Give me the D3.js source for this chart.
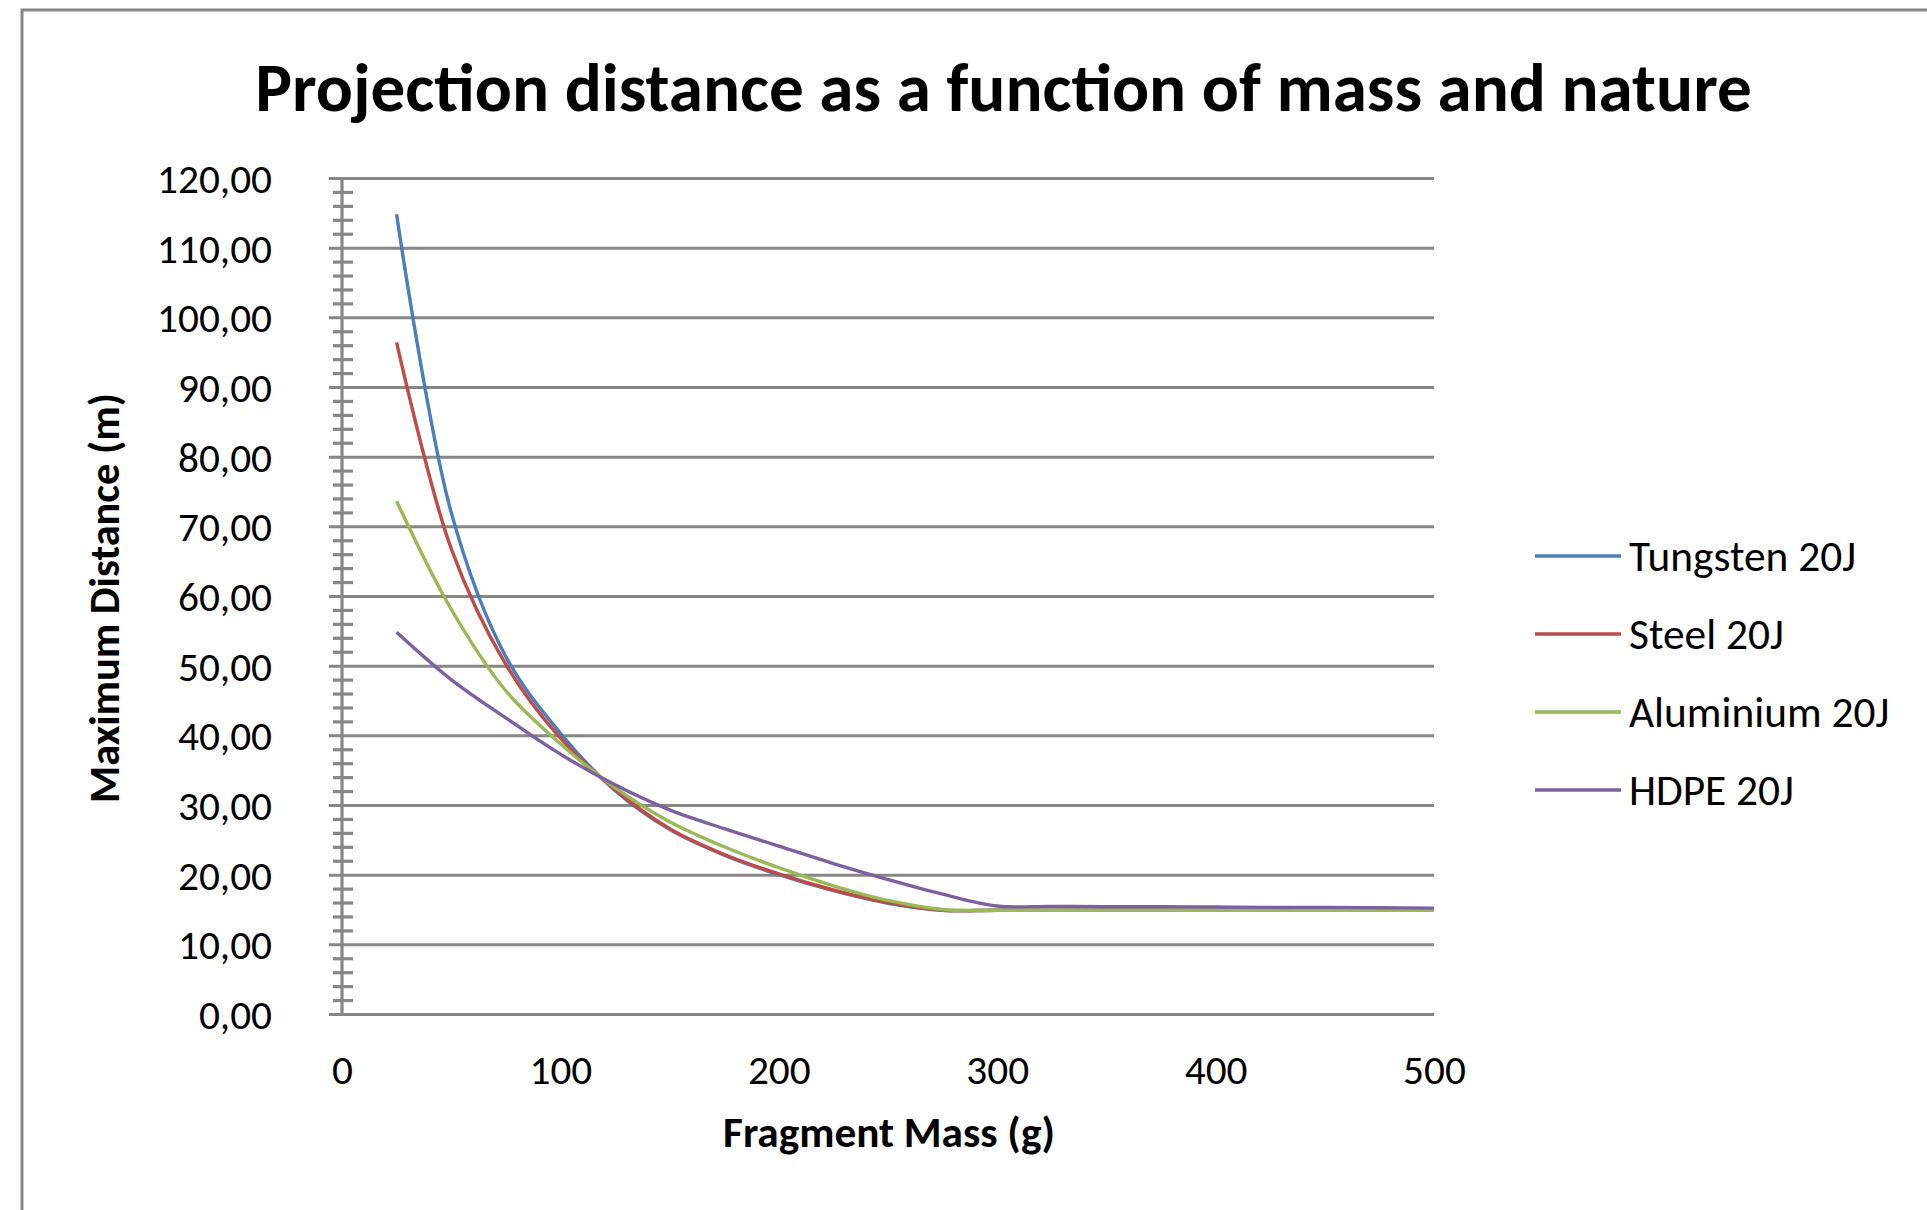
<!DOCTYPE html>
<html>
<head>
<meta charset="utf-8">
<script src="https://cdn.jsdelivr.net/npm/d3@7"></script>
<style>
  body { margin: 0; background: #fff; }
  svg { display: block; }
</style>
</head>
<body>
<svg id="chart"></svg>
<script>
// fragment mass (g)
var masses = [25, 50, 75, 100, 125, 150, 175, 200, 225, 250, 275, 300, 325, 350, 375, 400, 425, 450, 475, 500];

// maximum distance (m)
var tungsten = [114.8, 72.0, 51.3, 40.3, 32.1, 26.5, 22.8, 20.0, 17.7, 15.9, 14.9, 14.9, 14.9, 14.9, 14.9, 14.9, 14.9, 14.9, 14.9, 14.9];
var steel = [96.4, 66.8, 50.2, 39.6, 32.2, 26.6, 22.9, 20.1, 17.8, 16.0, 14.9, 14.9, 14.9, 14.9, 14.9, 14.9, 14.9, 14.9, 14.9, 14.9];
var aluminium = [73.6, 58.1, 46.4, 38.8, 32.5, 27.6, 24.0, 21.0, 18.4, 16.3, 15.0, 14.9, 14.9, 14.9, 14.9, 14.9, 14.9, 14.9, 14.9, 14.9];
var hdpe = [54.8, 48.0, 42.5, 37.3, 32.9, 29.3, 26.6, 24.1, 21.6, 19.3, 17.2, 15.5, 15.45, 15.4, 15.4, 15.35, 15.3, 15.3, 15.25, 15.2];

var seriesNames = ["Tungsten 20J", "Steel 20J", "Aluminium 20J", "HDPE 20J"];
var seriesColors = ["#4A7EBB", "#BE4B48", "#98B954", "#7D60A0"];

var xTickValues = [0, 100, 200, 300, 400, 500];
var yTickValues = [0, 10, 20, 30, 40, 50, 60, 70, 80, 90, 100, 110, 120];

var title = "Projection distance as a function of mass and nature";
var xTitle = "Fragment Mass (g)";
var yTitle = "Maximum Distance (m)";

var width = 1927, height = 1210;
var fontFamily = "Carlito, Calibri, Lato, sans-serif";
var gridColor = "#878787";

var svg = d3.select("#chart")
    .attr("width", width)
    .attr("height", height)
    .style("font-family", fontFamily);

// chart border
svg.append("rect")
    .attr("x", 22).attr("y", 10)
    .attr("width", 2000).attr("height", 1400)
    .attr("fill", "#fff")
    .attr("stroke", gridColor)
    .attr("stroke-width", 3);

var x = d3.scaleLinear().domain([0, 500]).range([342, 1434]);
var y = d3.scaleLinear().domain([0, 120]).range([1014, 178]);

// scale a font so a text gets a wanted width
function fitSize(node, fs, target) {
    var w = node.getBBox().width;
    return fs * target / w;
}

// gridlines
var grid = svg.append("g")
    .attr("transform", "translate(329,0)")
    .call(d3.axisRight(y).tickValues(yTickValues).tickSize(x(500) - 329).tickFormat(""));
grid.select(".domain").remove();
grid.selectAll("line").attr("stroke", gridColor).attr("stroke-width", 3);

// minor ticks every 2
var minorValues = d3.range(0, 121, 2).filter(function (v) { return v % 10 !== 0; });
var minor = svg.append("g")
    .attr("transform", "translate(353,0)")
    .call(d3.axisLeft(y).tickValues(minorValues).tickSize(20).tickFormat(""));
minor.select(".domain").remove();
minor.selectAll("line").attr("stroke", gridColor).attr("stroke-width", 3.2);

// vertical axis line
svg.append("line")
    .attr("x1", x(0)).attr("x2", x(0))
    .attr("y1", y(120)).attr("y2", y(0))
    .attr("stroke", gridColor)
    .attr("stroke-width", 3.2);

var comma = d3.formatLocale({ decimal: ",", thousands: " ", grouping: [3], currency: ["", ""] });

// y tick labels
var yAxis = svg.append("g")
    .attr("transform", "translate(342,0)")
    .call(d3.axisLeft(y).tickValues(yTickValues).tickSize(0).tickPadding(70).tickFormat(comma.format(".2f")));
yAxis.select(".domain").remove();
yAxis.attr("font-family", fontFamily).attr("font-size", 40);
yAxis.selectAll("text").attr("fill", "#000").attr("dy", "0.35em");
var topLabel = yAxis.selectAll("text").filter(function (d) { return d === 120; }).node();
var tickSize = fitSize(topLabel, 40, 115);
yAxis.attr("font-size", tickSize);

// x tick labels
var xAxis = svg.append("g")
    .attr("transform", "translate(0,1014)")
    .call(d3.axisBottom(x).tickValues(xTickValues).tickSize(0).tickFormat(d3.format("d")));
xAxis.select(".domain").remove();
xAxis.attr("font-family", fontFamily).attr("font-size", tickSize);
xAxis.selectAll("text").attr("fill", "#000").attr("y", 70).attr("dy", 0);

// series lines, smoothed like the spreadsheet
var allSeries = [tungsten, steel, aluminium, hdpe];
var line = d3.line()
    .x(function (d, i) { return x(masses[i]); })
    .y(function (d) { return y(d); })
    .curve(d3.curveCatmullRom.alpha(0.5));

svg.append("g")
    .selectAll("path")
    .data(allSeries)
    .enter()
    .append("path")
    .attr("d", line)
    .attr("fill", "none")
    .attr("stroke", function (d, i) { return seriesColors[i]; })
    .attr("stroke-width", 3.4)
    .attr("stroke-linejoin", "round");

// title
var titleText = svg.append("text")
    .attr("x", 1003.5).attr("y", 111)
    .attr("text-anchor", "middle")
    .attr("font-weight", "bold")
    .attr("font-size", 60)
    .text(title);
titleText.attr("font-size", fitSize(titleText.node(), 60, 1497));

// axis titles
var xTitleText = svg.append("text")
    .attr("x", 889).attr("y", 1147)
    .attr("text-anchor", "middle")
    .attr("font-weight", "bold")
    .attr("font-size", 40)
    .text(xTitle);
xTitleText.attr("font-size", fitSize(xTitleText.node(), 40, 332));

var yTitleText = svg.append("text")
    .attr("transform", "translate(119,598) rotate(-90)")
    .attr("text-anchor", "middle")
    .attr("font-weight", "bold")
    .attr("font-size", 40)
    .text(yTitle);
yTitleText.attr("font-size", fitSize(yTitleText.node(), 40, 410));

// legend
var legendRows = [556, 634, 712, 790];
var legend = svg.append("g")
    .selectAll("g")
    .data(seriesNames)
    .enter()
    .append("g")
    .attr("transform", function (d, i) { return "translate(0," + legendRows[i] + ")"; });

legend.append("line")
    .attr("x1", 1535).attr("x2", 1621)
    .attr("stroke", function (d, i) { return seriesColors[i]; })
    .attr("stroke-width", 3.4);

var legendText = legend.append("text")
    .attr("x", 1629)
    .attr("dy", "0.35em")
    .attr("font-size", 40)
    .attr("fill", "#000")
    .text(function (d) { return d; });
var legendSize = fitSize(legendText.nodes()[0], 40, 227);
legendText.attr("font-size", legendSize);
</script>
</body>
</html>
